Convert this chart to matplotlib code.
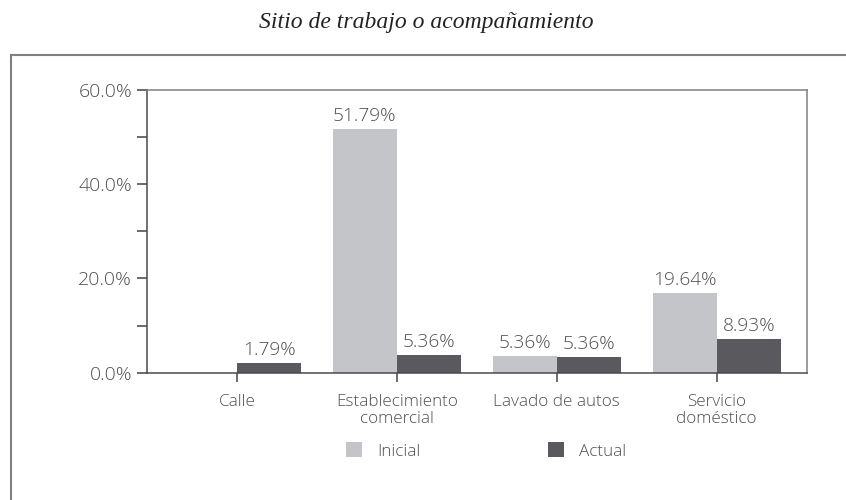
import matplotlib
matplotlib.use("Agg")
import matplotlib.pyplot as plt
from matplotlib.lines import Line2D
from matplotlib.ticker import FixedLocator, FuncFormatter
import numpy as np

categories = ["Calle", "Establecimiento\ncomercial", "Lavado de autos", "Servicio\ndoméstico"]
series_names = ["Inicial", "Actual"]
inicial_heights = [0.0, 51.7, 3.55, 16.9]
actual_heights = [2.05, 3.75, 3.35, 7.15]
inicial_labels = ["", "51.79%", "5.36%", "19.64%"]
actual_labels = ["1.79%", "5.36%", "5.36%", "8.93%"]
y_major = [0, 20, 40, 60]
y_minor = [10, 30, 50]
title = "Sitio de trabajo o acompañamiento"

c_ini = "#c4c5c9"
c_act = "#5a595e"
txt = "#505050"
font = ["Open Sans", "DejaVu Sans"]
fw = "light"

W, H = 846, 500
fig = plt.figure(figsize=(W / 100, H / 100), dpi=100)
ax = fig.add_axes([147 / W, 1 - 372.7 / H, (806.7 - 147) / W, (372.7 - 90) / H])

x = np.arange(len(categories))
bw = 0.4
b1 = ax.bar(x - bw / 2, inicial_heights, bw, color=c_ini, label=series_names[0], linewidth=0)
b2 = ax.bar(x + bw / 2, actual_heights, bw, color=c_act, label=series_names[1], linewidth=0)

for bars, labs in ((b1, inicial_labels), (b2, actual_labels)):
    for r, lab in zip(bars, labs):
        if lab:
            ax.annotate(lab, (r.get_x() + r.get_width() / 2, r.get_height()),
                        xytext=(0, 6), textcoords="offset points",
                        ha="center", va="baseline", fontsize=13.8,
                        color=txt, family=font, weight=fw)

ax.set_xlim(-0.5625, 3.5625)
ax.set_ylim(0, 60)
ax.yaxis.set_major_locator(FixedLocator(y_major))
ax.yaxis.set_minor_locator(FixedLocator(y_minor))
ax.yaxis.set_major_formatter(FuncFormatter(lambda v, p: f"{v:.1f}%"))
ax.set_xticks(x)
ax.set_xticklabels(categories, linespacing=1.05)

ax.tick_params(axis="y", which="both", direction="out", length=7.2, width=1.1,
               color="#444444", pad=3.5, labelsize=14, labelcolor=txt)
ax.tick_params(axis="x", direction="out", length=6.5, width=1.1, color="#444444",
               pad=9, labelsize=12.3, labelcolor=txt)
for lab in ax.get_xticklabels() + ax.get_yticklabels():
    lab.set_family(font)
    lab.set_weight(fw)
for lab in ax.get_xticklabels():
    lab.set_ha("center")
    lab.set_multialignment("center")

for s in ("left", "bottom"):
    ax.spines[s].set_color("#4a4a4a")
    ax.spines[s].set_linewidth(1.1)
for s in ("top", "right"):
    ax.spines[s].set_color("#808080")
    ax.spines[s].set_linewidth(1.1)

leg = ax.legend(loc="center left", bbox_to_anchor=(346 / W, 1 - 451 / H),
                bbox_transform=fig.transFigure, ncol=2, frameon=False,
                prop={"family": font, "size": 12.3, "weight": fw}, handlelength=0.94,
                handleheight=0.94, handletextpad=0.86, columnspacing=7.5,
                borderpad=0, borderaxespad=0)
for t in leg.get_texts():
    t.set_color(txt)

fig.text(426 / W, 1 - 28 / H, title, ha="center", va="baseline",
         family="Liberation Serif", style="italic", fontsize=17, color="#222222")

fig.add_artist(Line2D([11 / W, 1.0], [1 - 55 / H] * 2, transform=fig.transFigure,
                      color="#808080", linewidth=1.5))
fig.add_artist(Line2D([11 / W] * 2, [1 - 55 / H, 0.0], transform=fig.transFigure,
                      color="#808080", linewidth=1.5))

fig.savefig("out.png", dpi=100)
